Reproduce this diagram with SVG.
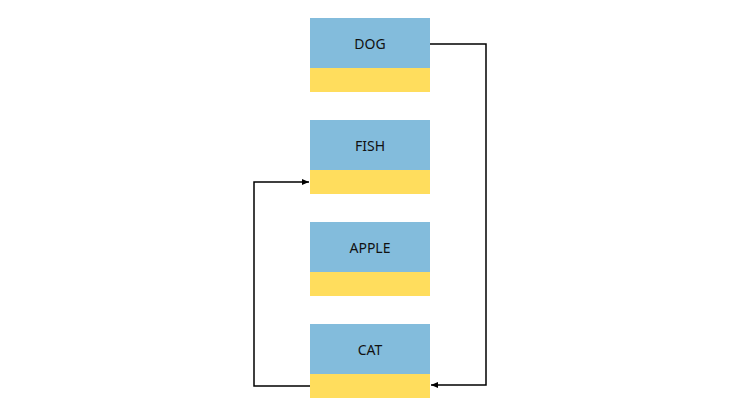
<svg xmlns="http://www.w3.org/2000/svg" width="740" height="416" viewBox="0 0 740 416">
<style>
.b{fill:#83bcdc}.y{fill:#ffdd5d}
text{font-family:"Noto Sans","Liberation Sans",sans-serif;font-size:14px;fill:#111;text-anchor:middle}
.c{fill:none;stroke:#000;stroke-width:1.5}
</style>
<defs><marker id="a" markerWidth="8" markerHeight="8" refX="7" refY="4" orient="auto" markerUnits="userSpaceOnUse"><path d="M0,1 L7,4 L0,7 Z" fill="#000"/></marker></defs>
<rect width="740" height="416" fill="#fff"/>
<g id="dog"><rect class="b" x="310" y="18" width="120" height="50"/><rect class="y" x="310" y="68" width="120" height="24"/><text x="370" y="49">DOG</text></g>
<g id="fish"><rect class="b" x="310" y="120" width="120" height="50"/><rect class="y" x="310" y="170" width="120" height="24"/><text x="370" y="151">FISH</text></g>
<g id="apple"><rect class="b" x="310" y="222" width="120" height="50"/><rect class="y" x="310" y="272" width="120" height="24"/><text x="370" y="253">APPLE</text></g>
<g id="cat"><rect class="b" x="310" y="324" width="120" height="50"/><rect class="y" x="310" y="374" width="120" height="24"/><text x="370" y="355">CAT</text></g>
<g id="connectors">
<path class="c" d="M430,44 H486 V385 H431" marker-end="url(#a)"/>
<path class="c" d="M310,386 H254 V182 H309" marker-end="url(#a)"/>
</g>
</svg>
